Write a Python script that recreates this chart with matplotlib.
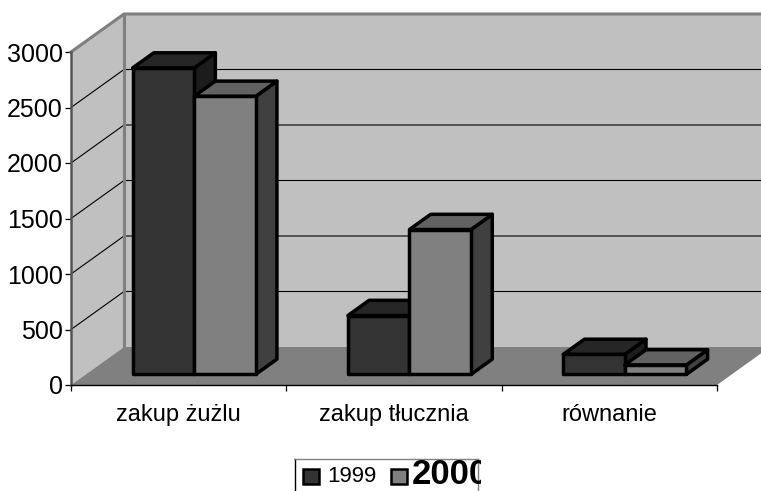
# 3D-look clustered columns, drawn flat with polygons
import numpy as np
import matplotlib
matplotlib.use('Agg')
import matplotlib.pyplot as plt
from matplotlib.patches import Polygon, Rectangle

plt.rcParams['font.family'] = ['Liberation Sans', 'DejaVu Sans']

categories = ['zakup żużlu', 'zakup tłucznia', 'równanie']
series_names = ['1999', '2000']
values_1999 = [2760, 530, 180]
values_2000 = [2505, 1305, 85]
y_ticks = [0, 500, 1000, 1500, 2000, 2500, 3000]

W, H = 761, 491
LEFT, RIGHT, BASE, TOP = 71, 717, 385, 52  # front plane, pixels
DEPTH_X, DEPTH_Y = 53, 38                  # depth of the box, pixels

front_dark = '#333333'
top_dark = '#262626'
side_dark = '#1c1c1c'
front_light = '#808080'
top_light = '#626262'
side_light = '#404040'
wall = '#c0c0c0'
floor = '#808080'

f = plt.figure(figsize=(W / 100, H / 100), dpi=100, facecolor='white')
ax = f.add_axes([LEFT / W, 1 - BASE / H, (RIGHT - LEFT) / W, (BASE - TOP) / H])
ax.set_xlim(0, 3)
ax.set_ylim(0, 3000)
ax.patch.set_visible(False)

# depth expressed in data units
dx = DEPTH_X * 3 / (RIGHT - LEFT)
dy = DEPTH_Y * 3000 / (BASE - TOP)


def poly(pts, fc, ec='none', lw=0, z=1):
    ax.add_patch(Polygon(pts, closed=True, facecolor=fc, edgecolor=ec, linewidth=lw,
                         joinstyle='round', clip_on=False, zorder=z))


def column(x0, x1, val, d0, d1, front, top, side, z):
    ox0, oy0 = d0 * dx, d0 * dy
    ddx, ddy = (d1 - d0) * dx, (d1 - d0) * dy
    a, b = x0 + ox0, x1 + ox0
    y0, y1 = oy0, oy0 + val
    poly([(b, y0), (b + ddx, y0 + ddy), (b + ddx, y1 + ddy), (b, y1)], side, 'black', 2.5, z)
    poly([(a, y1), (b, y1), (b + ddx, y1 + ddy), (a + ddx, y1 + ddy)], top, 'black', 2.5, z)
    poly([(a, y0), (b, y0), (b, y1), (a, y1)], front, 'black', 2.5, z)


# walls and floor
poly([(dx, dy), (3 + dx, dy), (3 + dx, 3000 + dy), (dx, 3000 + dy)], wall, z=1)
poly([(0, 0), (dx, dy), (dx, 3000 + dy), (0, 3000)], wall, z=1)
poly([(0, 0), (3, 0), (3 + dx, dy), (dx, dy)], floor, z=2)

# gridlines
for v in y_ticks[1:]:
    ax.plot([0, dx, 3 + dx], [v, v + dy, v + dy], color='black', lw=0.8, clip_on=False, zorder=3)

# wall outline
ax.plot([0, dx, 3 + dx], [3000, 3000 + dy, 3000 + dy], color='#808080', lw=2.2, clip_on=False, zorder=4)
ax.plot([dx, dx], [dy, 3000 + dy], color='#808080', lw=2.2, clip_on=False, zorder=4)

# columns
bar_w = 0.286
d0, d1 = 0.28, 0.68
for i, (a, b) in enumerate(zip(values_1999, values_2000)):
    c = i + 0.503
    column(c - bar_w, c, a, d0, d1, front_dark, top_dark, side_dark, 5 + i)
    column(c, c + bar_w, b, d0, d1, front_light, top_light, side_light, 5 + i + 0.5)

# axes
for s in ['top', 'right']:
    ax.spines[s].set_visible(False)
ax.spines['left'].set_color('#555555')
ax.spines['left'].set_linewidth(1.8)
ax.spines['left'].set_zorder(4)
ax.spines['bottom'].set_color('black')
ax.spines['bottom'].set_linewidth(1.0)
ax.spines['bottom'].set_zorder(4)
ax.set_yticks(y_ticks)
ax.set_xticks([0, 1, 2, 3])
ax.set_xticklabels([])
ax.set_xticks([0.5, 1.5, 2.5], labels=categories, minor=True)
ax.tick_params(axis='y', labelsize=18, length=4, width=0.9, pad=2)
ax.tick_params(axis='x', which='major', length=4, width=0.9)
ax.tick_params(axis='x', which='minor', length=0, labelsize=17, pad=14)

# legend, its box is cut by the picture bottom and clips the last label
lx0, lx1, ly0 = 294, 481, 458
lg = f.add_axes([lx0 / W, 0, (lx1 - lx0) / W, (H - ly0) / H])
lg.set_xlim(lx0, lx1)
lg.set_ylim(H, ly0)
lg.axis('off')
lg.plot([294.5, 294.5], [491, 458.5], color='black', lw=1.0)
lg.plot([294, 478], [458.5, 458.5], color='#808080', lw=1.0)
lg.plot([478, 478], [458.5, 491], color='#808080', lw=1.0)
lg.add_patch(Rectangle((303, 469), 15.5, 14.5, facecolor=front_dark, edgecolor='black', linewidth=1.8))
lg.add_patch(Rectangle((391, 469), 15.5, 14.5, facecolor=front_light, edgecolor='black', linewidth=1.8))
lg.text(327, 477, series_names[0], fontsize=16, va='center', ha='left', clip_on=True)
lg.text(412, 475, series_names[1], fontsize=25, fontweight='bold', va='center', ha='left', clip_on=True)

f.savefig('out.png', dpi=100)
